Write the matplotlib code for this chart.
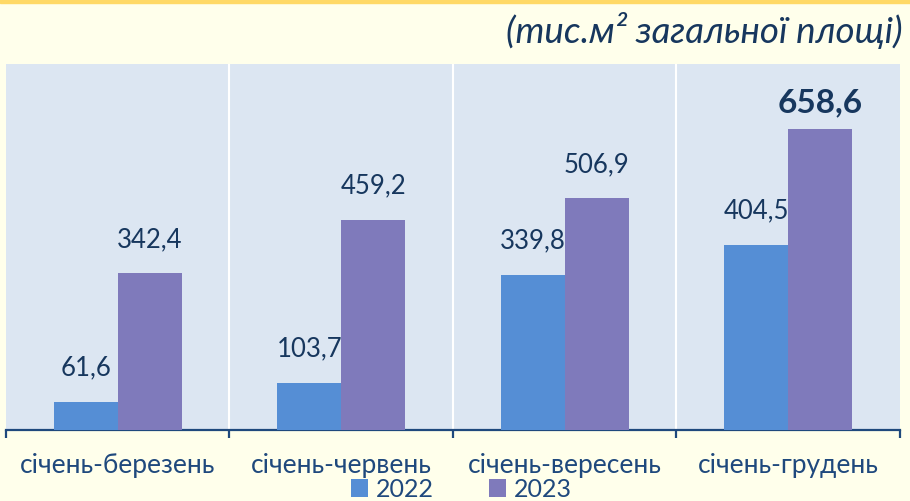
import matplotlib.pyplot as plt
import matplotlib.patches as mpatches
import numpy as np

plt.rcParams['font.family'] = ['Lato', 'Noto Sans', 'DejaVu Sans']

# data
periods = ['січень-березень', 'січень-червень', 'січень-вересень', 'січень-грудень']
vals_2022 = [61.6, 103.7, 339.8, 404.5]
vals_2023 = [342.4, 459.2, 506.9, 658.6]
years = ['2022', '2023']

blue = '#558ED5'
purple = '#7F7ABB'
navy = '#17375E'
txt = '#1F497D'

fig = plt.figure(figsize=(9.1, 5.02), dpi=100, facecolor='#FFFFEB')
# gold strip at top
fig.patches.append(mpatches.Rectangle((0, 1 - 4/502), 1, 4/502, transform=fig.transFigure,
                                      color='#FFD966', zorder=0))

ax = fig.add_axes([6/910, 71/502, 894/910, 366/502])
ax.set_facecolor('#DCE6F2')

x = np.arange(len(periods))
w = 64/224
b1 = ax.bar(x - w/2, vals_2022, w, color=blue, zorder=3, label=years[0])
b2 = ax.bar(x + w/2, vals_2023, w, color=purple, zorder=3, label=years[1])

def fmt(v):
    return f'{v:.1f}'.replace('.', ',')

for i, v in enumerate(vals_2022):
    ax.annotate(fmt(v), (x[i] - w/2, v), xytext=(0, 16), textcoords='offset points',
                ha='center', va='bottom', fontsize=18.5, color=navy)
for i, v in enumerate(vals_2023):
    last = i == len(vals_2023) - 1
    ax.annotate(fmt(v), (x[i] + w/2, v), xytext=(0, 9 if last else 16), textcoords='offset points',
                ha='center', va='bottom', fontsize=24 if last else 18.5,
                fontweight='bold' if last else 'normal', color=navy)

ax.set_xlim(-0.5, len(periods) - 0.5)
ax.set_ylim(0, 800)
ax.set_yticks([])
for s in ['top', 'left', 'right']:
    ax.spines[s].set_visible(False)
ax.spines['bottom'].set_color(txt)
ax.spines['bottom'].set_linewidth(1.6)

bounds = np.arange(len(periods) + 1) - 0.5
for bx in bounds[1:-1]:
    ax.axvline(bx, color='white', lw=1.5, zorder=1)
ax.set_xticks(bounds)
ax.set_xticklabels([])
ax.tick_params(axis='x', direction='out', length=6, width=1.6, color=txt)
for i, p in enumerate(periods):
    ax.text(x[i], -0.095, p, transform=ax.get_xaxis_transform(), ha='center', va='center',
            fontsize=19, color=txt)

fig.text(903/910, 1 - 31/502, '(тис.м² загальної площі)', ha='right', va='center',
         fontsize=26.5, style='italic', color=navy)

fig.legend(handles=[b1, b2], labels=years, loc='center', bbox_to_anchor=(461/910, 1 - 490/502),
           ncol=2, frameon=False, fontsize=18, labelcolor=txt, handlelength=0.7, handleheight=0.7,
           handletextpad=0.3, columnspacing=2.2)

fig.savefig('out.png', dpi=100, facecolor=fig.get_facecolor())
